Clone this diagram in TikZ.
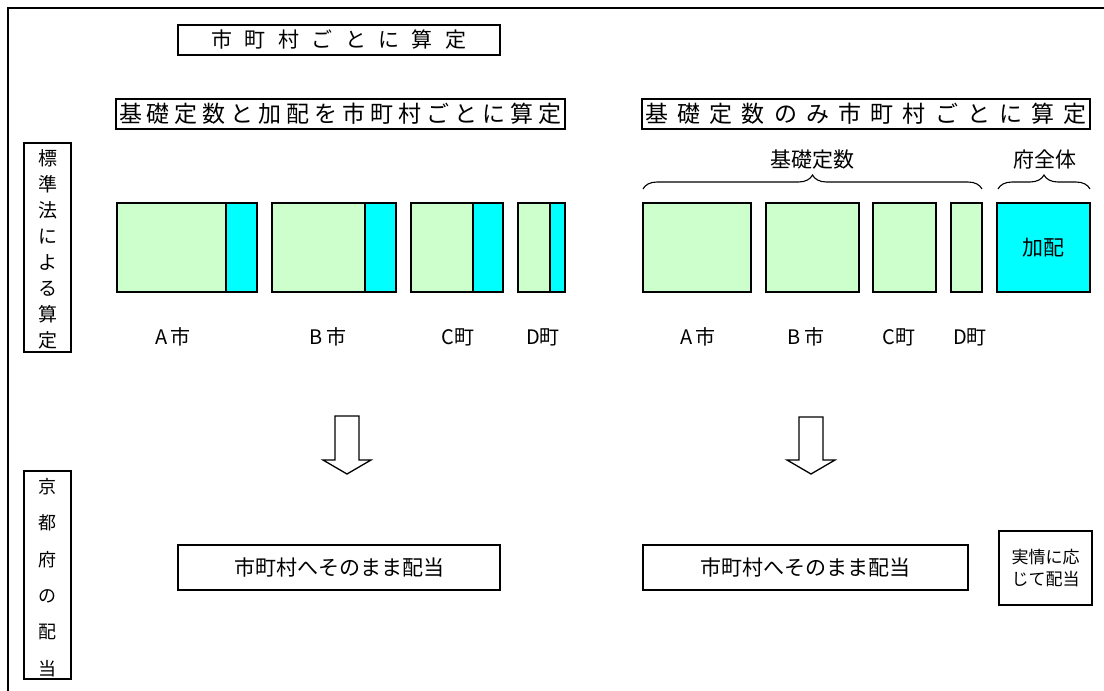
\documentclass[tikz,border=0pt]{standalone}
\usepackage{fontspec}
\setmainfont{Noto Sans CJK JP}
\usetikzlibrary{decorations.pathreplacing}
\definecolor{lgreen}{HTML}{CCFFCC}
\definecolor{aqua}{HTML}{00FFFF}
\newcommand\fs[2]{\fontsize{#1}{#2}\selectfont}
\makeatletter
\newcommand\spaced[2]{\def\sp@gap{#1}\let\sp@first\relax\@tfor\sp@c:=#2\do{\ifx\sp@first\relax\let\sp@first=x\else\kern\sp@gap\fi\sp@c}}
\makeatother
\begin{document}
\begin{tikzpicture}[x=1pt,y=-1pt,
  frame/.style={draw, line width=1.6pt, inner sep=0pt},
  gbox/.style={draw, line width=2.2pt, fill=lgreen, inner sep=0pt},
  cbox/.style={draw, line width=2.2pt, fill=aqua, inner sep=0pt},
  lbl/.style={inner sep=0pt, font=\fs{20}{23}},
  blockarrow/.style={draw, line width=1.3pt, line join=miter},
  bracestyle/.style={draw, line width=1.1pt, decorate, decoration={brace, amplitude=14pt}}]
\useasboundingbox (0,0) rectangle (1104,691);
\fill[white] (0,0) rectangle (1104,691);
% outer frame
\coordinate (fbl) at (8,691);
\coordinate (ftl) at (8,8);
\coordinate (ftr) at (1104,8);
\draw[line width=1.6pt] (fbl) -- (ftl) -- (ftr);
% titles
\node[frame, minimum width=322pt, minimum height=30pt, font=\fs{21}{24}] (title) at (339,40) {\spaced{12.4pt}{市町村ごとに算定}};
\node[frame, minimum width=449pt, minimum height=30pt, font=\fs{23}{26}] (subl) at (340.5,114) {\spaced{5pt}{基礎定数と加配を市町村ごとに算定}};
\node[frame, minimum width=448pt, minimum height=30pt, font=\fs{23}{26}] (subr) at (866,114) {\spaced{9.2pt}{基礎定数のみ市町村ごとに算定}};
% vertical side boxes
\node[frame, minimum width=47pt, minimum height=209pt] (vb1) at (47.5,247.5) {};
\node[inner sep=0pt, align=center, font=\fs{19}{26}] (vt1) at (47.5,249) {標\\準\\法\\に\\よ\\る\\算\\定};
\node[frame, minimum width=47pt, minimum height=208pt] (vb2) at (47.5,575) {};
\node[inner sep=0pt, align=center, font=\fs{18}{36.3}] (vt2) at (47.5,577.5) {京\\都\\府\\の\\配\\当};
% left bars
\node[gbox, minimum width=109pt, minimum height=89pt] (lag) at (171.5,247.5) {};
\node[cbox, minimum width=31pt, minimum height=89pt] (lac) at (241.5,247.5) {};
\node[gbox, minimum width=93pt, minimum height=89pt] (lbg) at (318.5,247.5) {};
\node[cbox, minimum width=31pt, minimum height=89pt] (lbc) at (380.5,247.5) {};
\node[gbox, minimum width=62pt, minimum height=89pt] (lcg) at (442,247.5) {};
\node[cbox, minimum width=30pt, minimum height=89pt] (lcc) at (488,247.5) {};
\node[gbox, minimum width=32pt, minimum height=89pt] (ldg) at (534,247.5) {};
\node[cbox, minimum width=15pt, minimum height=89pt] (ldc) at (557.5,247.5) {};
% right bars
\node[gbox, minimum width=108pt, minimum height=89pt] (ra) at (697,247.5) {};
\node[gbox, minimum width=93pt, minimum height=89pt] (rb) at (812.5,247.5) {};
\node[gbox, minimum width=63pt, minimum height=89pt] (rc) at (904.5,247.5) {};
\node[gbox, minimum width=31pt, minimum height=89pt] (rd) at (966.5,247.5) {};
\node[cbox, minimum width=93pt, minimum height=89pt, font=\fs{21}{24}] (rk) at (1043.5,247.5) {加配};
% labels
\node[lbl] (la) at (173,337) {A\kern3pt 市};
\node[lbl] (lb) at (328,337) {B\kern3pt 市};
\node[lbl] (lc) at (458,337) {C町};
\node[lbl] (ld) at (543,337) {D町};
\node[lbl] (rla) at (698,337) {A\kern3pt 市};
\node[lbl] (rlb) at (806,337) {B\kern3pt 市};
\node[lbl] (rlc) at (899,337) {C町};
\node[lbl] (rld) at (970,337) {D町};
% braces
\coordinate (b1s) at (643,189);
\coordinate (b1e) at (982,189);
\coordinate (b2s) at (998,189);
\coordinate (b2e) at (1090,189);
\draw[bracestyle] (b1s) -- (b1e);
\draw[bracestyle] (b2s) -- (b2e);
\node[inner sep=0pt, font=\fs{21}{24}] (kiso) at (812,160) {基礎定数};
\node[inner sep=0pt, font=\fs{21}{24}] (fuzen) at (1045,160) {府全体};
% block arrows
\draw[blockarrow] (335,416) -- (359,416) -- (359,460) -- (371,460) -- (347,474) -- (323,460) -- (335,460) -- cycle;
\draw[blockarrow] (799,417) -- (823,417) -- (823,460) -- (835,460) -- (811,474) -- (787,460) -- (799,460) -- cycle;
% bottom boxes
\node[frame, minimum width=322pt, minimum height=45pt, font=\fs{21}{24}] (botl) at (339,567.5) {市町村へそのまま配当};
\node[frame, minimum width=325pt, minimum height=45pt, font=\fs{21}{24}] (botr) at (805.5,567.5) {市町村へそのまま配当};
\node[frame, minimum width=93pt, minimum height=74pt, align=center, font=\fs{17}{22}] (jj) at (1045.5,568) {実情に応\\じて配当};
\end{tikzpicture}
\end{document}
